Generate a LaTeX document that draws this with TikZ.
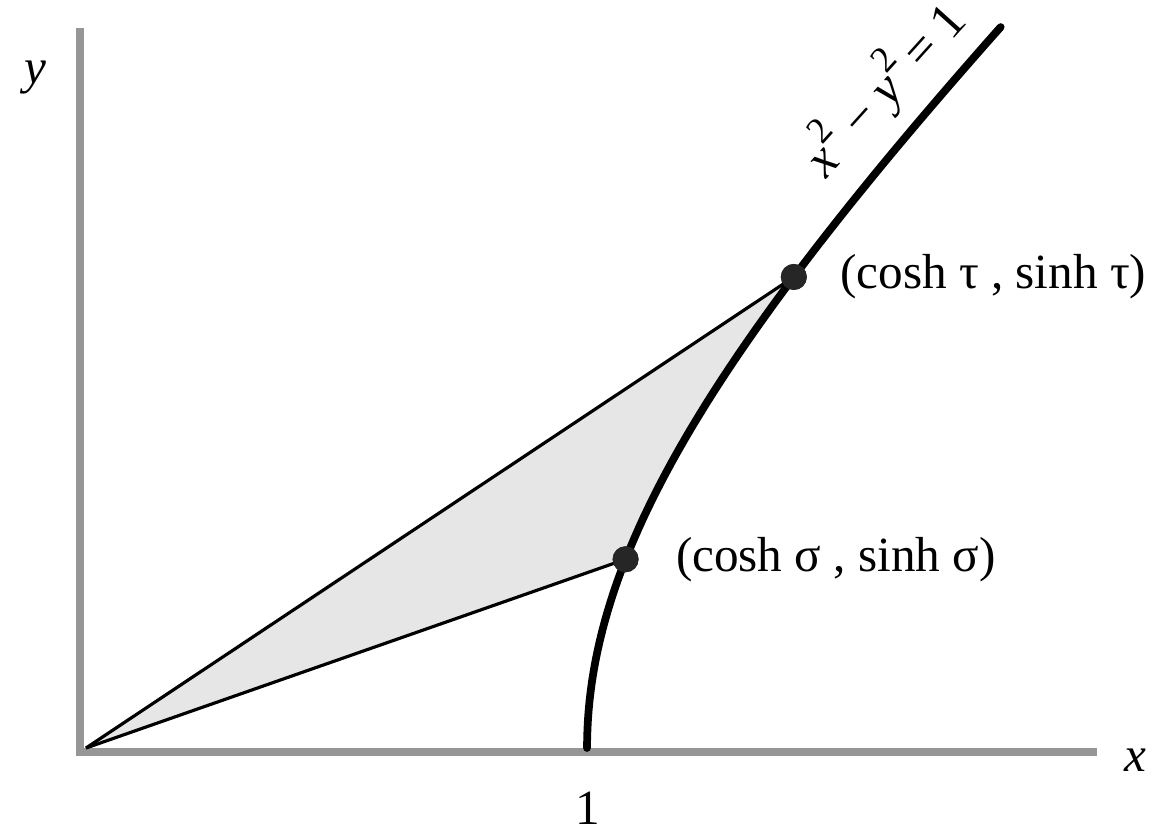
\documentclass[tikz,border=0pt]{standalone}
\usepackage{fontspec}
\setmainfont{Liberation Serif}
\usepackage{xcolor}
\definecolor{axgray}{RGB}{150,150,150}
\definecolor{areagray}{RGB}{230,230,230}
\usetikzlibrary{positioning,calc}
\newcommand{\sqsup}{\raisebox{0.5em}{\fontsize{10.5}{12}\selectfont 2}}

\begin{document}
\begin{tikzpicture}[
  x=5.01cm, y=4.72cm,
  axis/.style={draw=axgray, line width=2.3pt, line join=miter},
  hyp/.style={line width=2.2pt, line cap=round},
  ray/.style={line width=0.9pt},
  dot/.style={circle, fill=black!85, inner sep=0pt, minimum size=2.6mm},
  lbl/.style={font=\fontsize{14}{16}\selectfont, inner sep=0pt}
]
\useasboundingbox (-0.86cm,-0.82cm) rectangle (10.77cm,7.48cm);

% Axes
\coordinate (O) at (0,0);
\coordinate (corner) at (-0.06cm,-0.04cm);
\coordinate (xend) at (10.11cm,-0.04cm);
\coordinate (yend) at (-0.06cm,7.20cm);
\draw[axis] (xend) -- (corner) -- (yend);
\node[lbl] (xlbl) at (10.49cm,-0.12cm) {\itshape x};
\node[lbl] (ylbl) at (-0.51cm,6.70cm) {\itshape y};
\node[lbl] (one) at (5.02cm,-0.60cm) {1};

% Shaded sector
\fill[areagray] (O) -- plot[domain=0.39:0.88, samples=30] ({cosh(\x)},{sinh(\x)}) -- cycle;

% Hyperbola
\draw[hyp] plot[domain=0:1.21, samples=60] ({cosh(\x)},{sinh(\x)});
\node[lbl, font=\fontsize{14.5}{16}\selectfont, rotate=48, anchor=base west] (eq) at (7.40cm,5.68cm)
  {{\itshape x}\sqsup\ − {\itshape y}\sqsup\,= 1};

% Points on the curve
\node[dot] (sig) at ({cosh(0.39)},{sinh(0.39)}) {};
\node[dot] (tau) at ({cosh(0.88)},{sinh(0.88)}) {};
\draw[ray] (O) -- (sig.center);
\draw[ray] (O) -- (tau.center);
\node[dot] at (sig) {};
\node[dot] at (tau) {};

% Labels
\node[lbl, right=3.6mm of sig] (siglbl) {(cosh σ , sinh σ)};
\node[lbl, right=3.2mm of tau] (taulbl) {(cosh τ , sinh τ)};
\end{tikzpicture}
\end{document}
